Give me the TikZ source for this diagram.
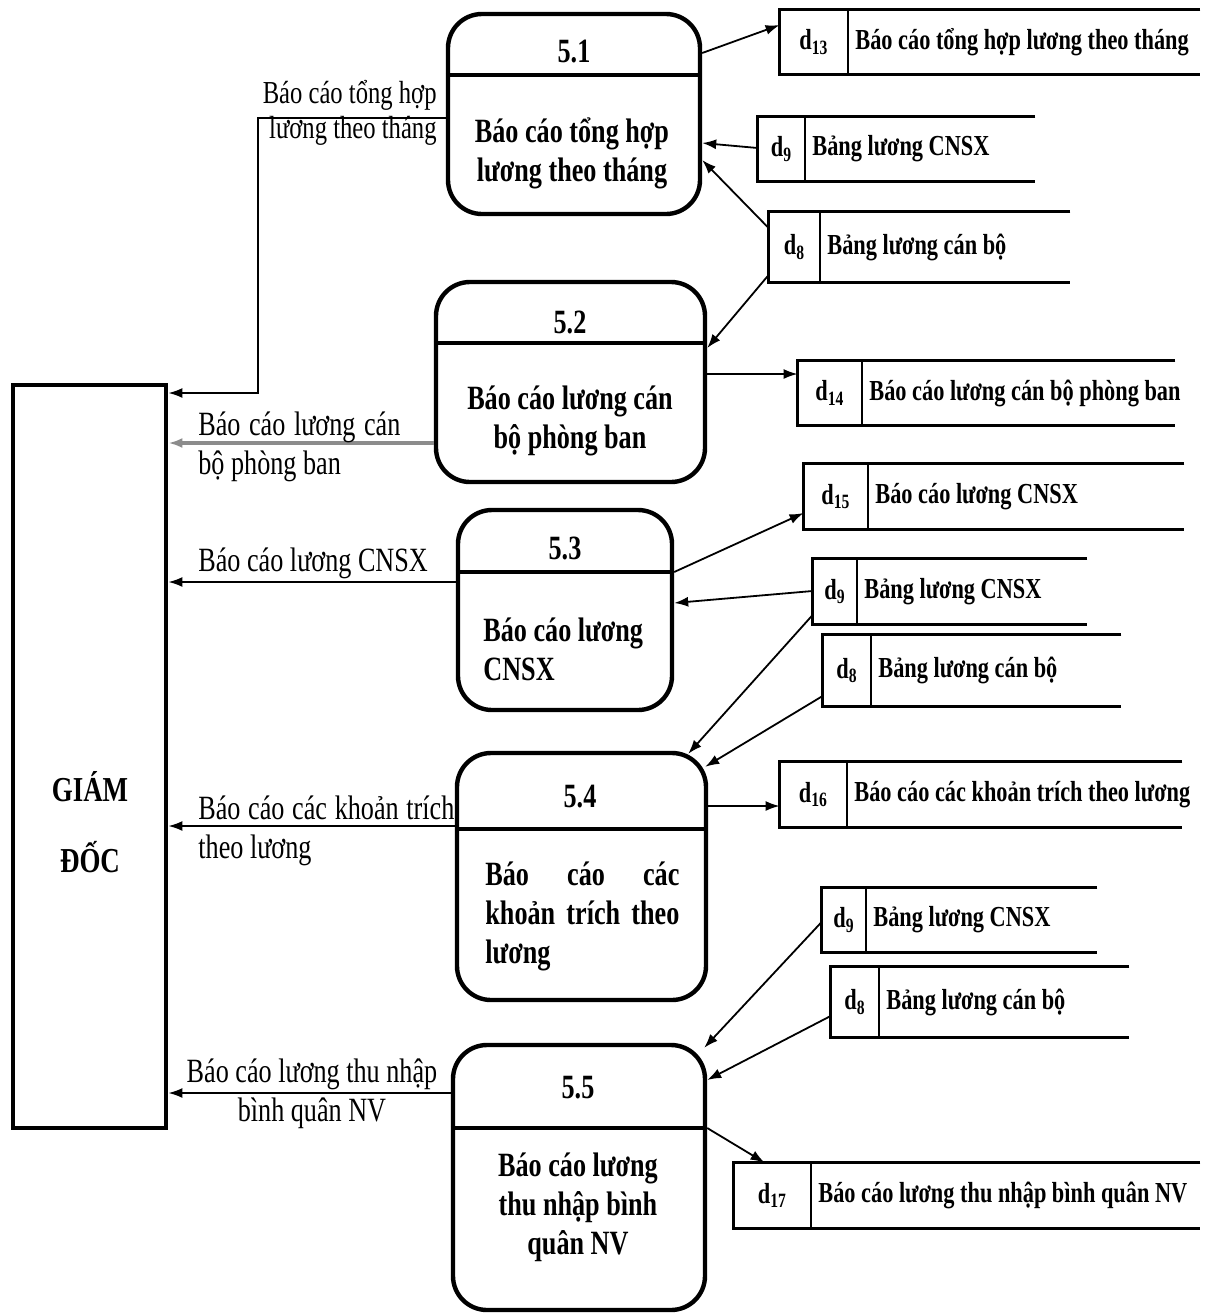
\documentclass[tikz,border=0pt]{standalone}
\usepackage{fontspec}
\setmainfont{Liberation Serif}[FakeStretch=0.77]
\usetikzlibrary{arrows.meta,fit,calc}
\newcommand\dstore[8]{%
  \node[fit={(#2,#3) (#4,#5)}, inner sep=0pt] (#1) {};
  \draw[storeline] (#1.north east) -- (#1.north west) -- (#1.south west) -- (#1.south east);
  \draw[storediv] (#1.north -| #6,0) -- (#1.south -| #6,0);
  \node[storelab] (#1d) at ({(#2+#6)/2},{(#3+#5)/2}) {#7};
  \node[storetxt] (#1t) at ({#6+7},{(#3+#5)/2}) {#8};
}
\begin{document}
\begin{tikzpicture}[x=0.5pt,y=-0.5pt,
  proc/.style={draw, line width=2.2pt, rounded corners=17pt, inner sep=0pt},
  procline/.style={line width=2.2pt},
  pnum/.style={font=\bfseries\fontsize{17}{19}\selectfont, inner sep=0pt},
  pbody/.style={font=\bfseries\fontsize{17}{19.5}\selectfont, inner sep=0pt, align=center},
  storeline/.style={line width=1.2pt},
  storediv/.style={line width=1pt},
  storelab/.style={font=\bfseries\fontsize{14.5}{16}\selectfont, inner sep=0pt},
  storetxt/.style={font=\bfseries\fontsize{14.5}{16}\selectfont, inner sep=0pt, anchor=west},
  flow/.style={line width=0.9pt, -{Latex[length=7pt,width=5pt]}},
  flowgray/.style={line width=1.6pt, draw=black!45, -{Latex[length=7pt,width=5pt]}},
  lab/.style={font=\fontsize{17}{19.5}\selectfont, inner sep=0pt},
  ent/.style={draw, line width=2.4pt, inner sep=0pt},
  entlab/.style={font=\bfseries\fontsize{17.5}{19}\selectfont, inner sep=0pt}
]
\useasboundingbox (0,0) rectangle (1211,1313);

% External entity
\node[ent, fit={(13,385) (166,1128)}] (gd) {};
\node[entlab] (gd1) at (90,787) {GIÁM};
\node[entlab] (gd2) at (90,857) {ĐỐC};

% Processes
\node[proc, fit={(448,14) (700,214)}] (p1) {};
\draw[procline] (p1.west |- 0,75) -- (p1.east |- 0,75);
\node[pnum] (p1n) at (574,52) {5.1};
\node[pbody] (p1b) at (572,153) {Báo cáo tổng hợp\\lương theo tháng};

\node[proc, fit={(436,282) (705,482)}] (p2) {};
\draw[procline] (p2.west |- 0,343) -- (p2.east |- 0,343);
\node[pnum] (p2n) at (570,322) {5.2};
\node[pbody] (p2b) at (570,421) {Báo cáo lương cán\\bộ phòng ban};

\node[proc, fit={(458,510) (672,710)}] (p3) {};
\draw[procline] (p3.west |- 0,572) -- (p3.east |- 0,572);
\node[pnum] (p3n) at (565,548) {5.3};
\node[pbody, align=left, anchor=west] (p3b) at (483,649) {Báo cáo lương\\CNSX};

\node[proc, fit={(457,753) (706,1000)}] (p4) {};
\draw[procline] (p4.west |- 0,829) -- (p4.east |- 0,829);
\node[pnum] (p4n) at (580,797) {5.4};
\node[pbody, align=left, anchor=west] (p4b) at (485,916) {\makebox[97pt][s]{Báo cáo các}\\\makebox[97pt][s]{khoản trích theo}\\lương};

\node[proc, fit={(453,1045) (705,1310)}] (p5) {};
\draw[procline] (p5.west |- 0,1128) -- (p5.east |- 0,1128);
\node[pnum] (p5n) at (578,1088) {5.5};
\node[pbody] (p5b) at (578,1207) {Báo cáo lương\\thu nhập bình\\quân NV};

% Data stores
\dstore{s13}{780}{10}{1200}{74}{848}{d\textsubscript{13}}{Báo cáo tổng hợp lương theo tháng}
\dstore{s9a}{758}{117}{1035}{181}{805}{d\textsubscript{9}}{Bảng lương CNSX}
\dstore{s8a}{769}{212}{1070}{282}{820}{d\textsubscript{8}}{Bảng lương cán bộ}
\dstore{s14}{798}{361}{1175}{425}{862}{d\textsubscript{14}}{Báo cáo lương cán bộ phòng ban}
\dstore{s15}{804}{464}{1184}{529}{868}{d\textsubscript{15}}{Báo cáo lương CNSX}
\dstore{s9b}{813}{559}{1087}{624}{857}{d\textsubscript{9}}{Bảng lương CNSX}
\dstore{s8b}{823}{635}{1121}{706}{871}{d\textsubscript{8}}{Bảng lương cán bộ}
\dstore{s16}{780}{762}{1182}{827}{847}{d\textsubscript{16}}{Báo cáo các khoản trích theo lương}
\dstore{s9c}{822}{888}{1097}{952}{866}{d\textsubscript{9}}{Bảng lương CNSX}
\dstore{s8c}{831}{967}{1129}{1037}{879}{d\textsubscript{8}}{Bảng lương cán bộ}
\dstore{s17}{734}{1163}{1200}{1228}{811}{d\textsubscript{17}}{Báo cáo lương thu nhập bình quân NV}

% Flows between processes and stores
\draw[flow] (p1.east |- 0,53) -- (s13.west |- 0,25);
\draw[flow] (s9a.west |- 0,148) -- (p1.east |- 0,143);
\draw[flow] (s8a.west |- 0,228) -- (p1.east |- 0,160);
\draw[flow] (s8a.west |- 0,275) -- (p2.east |- 0,348);
\draw[flow] (p2.east |- 0,374) -- (s14.west |- 0,374);
\draw[flow] (p3.east |- 0,572) -- (s15.west |- 0,513);
\draw[flow] (s9b.west |- 0,591) -- (p3.east |- 0,603);
\draw[flow] (s9b.west |- 0,615) -- ($(p4.north east)+(-20,3)$);
\draw[flow] (s8b.west |- 0,696) -- ($(p4.north east)+(-3,16)$);
\draw[flow] (p4.east |- 0,806) -- (s16.west |- 0,806);
\draw[flow] (s9c.west |- 0,922) -- ($(p5.north east)+(-3,5)$);
\draw[flow] (s8c.west |- 0,1016) -- (p5.east |- 0,1080);
\draw[flow] (p5.east |- 0,1128) -- ($(s17.north west)+(31,0)$);

% Flows to GIAM DOC
\draw[flow] (p1.west |- 0,118) -- (258,118) -- (258,393) -- (gd.east |- 0,393);
\draw[flowgray] (p2.west |- 0,443) -- (gd.east |- 0,443);
\draw[flow] (p3.west |- 0,582) -- (gd.east |- 0,582);
\draw[flow] (p4.west |- 0,826) -- (gd.east |- 0,826);
\draw[flow] (p5.west |- 0,1093) -- (gd.east |- 0,1093);

% Flow labels
\node[lab, font=\fontsize{16}{17.5}\selectfont, align=right, anchor=east] (l1) at (437,113) {Báo cáo tổng hợp\\lương theo tháng};
\node[lab, align=left, anchor=west] (l2) at (198,447) {\makebox[101pt][s]{Báo cáo lương cán}\\bộ phòng ban};
\node[lab, anchor=west] (l3) at (198,563) {Báo cáo lương CNSX};
\node[lab, align=left, anchor=west] (l4) at (198,831) {\makebox[128pt][s]{Báo cáo các khoản trích}\\theo lương};
\node[lab, align=center] (l5) at (312,1094) {Báo cáo lương thu nhập\\bình quân NV};
\end{tikzpicture}
\end{document}
